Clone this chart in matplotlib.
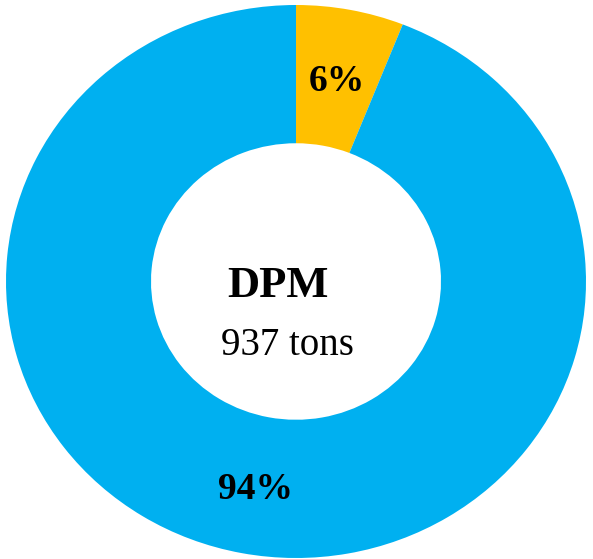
import matplotlib
matplotlib.use("Agg")
import matplotlib.pyplot as plt

labels = ["Other", "DPM"]
values = [6, 94]
colors = ["#FFC000", "#00B0F0"]
center_title = "DPM"
center_sub = "937 tons"

W, H = 593, 559
fig = plt.figure(figsize=(W / 100, H / 100), dpi=100)
ax = fig.add_axes([6 / W, 1 / H, 580 / W, 553 / H])

wedges, texts, autotexts = ax.pie(
    values,
    colors=colors,
    startangle=90,
    counterclock=False,
    autopct="%1.0f%%",
    pctdistance=0.75,
    radius=1.0,
    wedgeprops=dict(width=0.5, edgecolor="none", linewidth=0),
    textprops=dict(family="Liberation Serif", fontweight="bold", fontsize=27, color="black"),
)
for t in autotexts:
    t.set_va("center_baseline")

ax.set_aspect("auto")
ax.set_xlim(-1, 1)
ax.set_ylim(-1, 1)
ax.axis("off")

ax.text(-0.062, -0.056, center_title, ha="center", va="baseline",
        family="Liberation Serif", fontweight="bold", fontsize=32, color="black")
ax.text(-0.031, -0.266, center_sub, ha="center", va="baseline",
        family="Liberation Serif", fontweight="normal", fontsize=28, color="black")

fig.savefig("out.png", dpi=100)
